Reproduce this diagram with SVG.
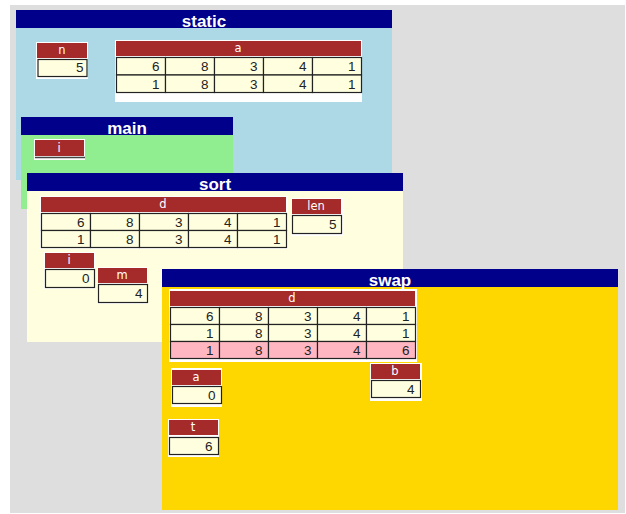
<svg xmlns="http://www.w3.org/2000/svg" width="626" height="514" viewBox="0 0 626 514">
<style>
.hdr{fill:#00008b}
.ttl{font-family:"Liberation Sans",Arial,sans-serif;font-weight:bold;font-size:17px;fill:#fff;text-anchor:middle}
.bg{fill:#fff}
.lab{fill:#a52a2a}
.lt{font-family:"DejaVu Sans","Liberation Sans",sans-serif;font-size:11.5px;fill:#fff;text-anchor:middle}
.cell{fill:#ffffe0;stroke:#222;stroke-width:1.2}
.pink{fill:#ffb6c1;stroke:#222;stroke-width:1.2}
.val{font-family:"Liberation Sans",Arial,sans-serif;font-size:13.5px;fill:#222;text-anchor:end}
</style>
<rect x="10" y="5" width="615" height="508" fill="#dedede"/>

<g id="static">
<rect x="16" y="28" width="376" height="152" fill="#add8e6"/>
<rect class="hdr" x="16" y="10" width="376" height="18"/>
<text class="ttl" x="204" y="27">static</text>
<g id="static-n">
<rect class="bg" x="36" y="42" width="52" height="37"/>
<rect class="lab" x="37" y="43" width="50" height="15"/>
<text class="lt" x="62" y="54">n</text>
<rect class="cell" x="38" y="59.5" width="49" height="17"/>
<text class="val" x="83.5" y="72">5</text>
</g>
<g id="static-a">
<rect class="bg" x="115" y="40" width="247" height="62"/>
<rect class="lab" x="116" y="41" width="245" height="15"/>
<text class="lt" x="238" y="52">a</text>
<rect class="cell" x="116.5" y="57.5" width="49" height="17.5"/><rect class="cell" x="165.5" y="57.5" width="49" height="17.5"/><rect class="cell" x="214.5" y="57.5" width="49" height="17.5"/><rect class="cell" x="263.5" y="57.5" width="49" height="17.5"/><rect class="cell" x="312.5" y="57.5" width="49" height="17.5"/>
<rect class="cell" x="116.5" y="75" width="49" height="17.5"/><rect class="cell" x="165.5" y="75" width="49" height="17.5"/><rect class="cell" x="214.5" y="75" width="49" height="17.5"/><rect class="cell" x="263.5" y="75" width="49" height="17.5"/><rect class="cell" x="312.5" y="75" width="49" height="17.5"/>
<text class="val" x="159.5" y="71">6</text><text class="val" x="208.5" y="71">8</text><text class="val" x="257.5" y="71">3</text><text class="val" x="306.5" y="71">4</text><text class="val" x="355.5" y="71">1</text>
<text class="val" x="159.5" y="88.5">1</text><text class="val" x="208.5" y="88.5">8</text><text class="val" x="257.5" y="88.5">3</text><text class="val" x="306.5" y="88.5">4</text><text class="val" x="355.5" y="88.5">1</text>
</g>
</g>

<g id="main">
<rect x="21" y="135" width="212" height="74" fill="#90ee90"/>
<rect class="hdr" x="21" y="117" width="212" height="18"/>
<text class="ttl" x="127" y="134">main</text>
<g id="main-i">
<rect class="bg" x="34" y="139" width="51" height="21"/>
<rect class="lab" x="35" y="140" width="49" height="16"/>
<text class="lt" x="59" y="152">i</text>
<line x1="35" y1="157.5" x2="85" y2="157.5" stroke="#444" stroke-width="1.5"/>
</g>
</g>

<g id="sort">
<rect x="27" y="191" width="376" height="151" fill="#ffffe0"/>
<rect class="hdr" x="27" y="173" width="376" height="18"/>
<text class="ttl" x="215" y="190">sort</text>
<g id="sort-d">
<rect class="bg" x="40" y="196" width="248" height="53"/>
<rect class="lab" x="41" y="197" width="245" height="15"/>
<text class="lt" x="163" y="208">d</text>
<rect class="cell" x="41.5" y="213.5" width="49" height="17"/><rect class="cell" x="90.5" y="213.5" width="49" height="17"/><rect class="cell" x="139.5" y="213.5" width="49" height="17"/><rect class="cell" x="188.5" y="213.5" width="49" height="17"/><rect class="cell" x="237.5" y="213.5" width="49" height="17"/>
<rect class="cell" x="41.5" y="230.5" width="49" height="17"/><rect class="cell" x="90.5" y="230.5" width="49" height="17"/><rect class="cell" x="139.5" y="230.5" width="49" height="17"/><rect class="cell" x="188.5" y="230.5" width="49" height="17"/><rect class="cell" x="237.5" y="230.5" width="49" height="17"/>
<text class="val" x="84.5" y="226.5">6</text><text class="val" x="133.5" y="226.5">8</text><text class="val" x="182.5" y="226.5">3</text><text class="val" x="231.5" y="226.5">4</text><text class="val" x="280.5" y="226.5">1</text>
<text class="val" x="84.5" y="243.5">1</text><text class="val" x="133.5" y="243.5">8</text><text class="val" x="182.5" y="243.5">3</text><text class="val" x="231.5" y="243.5">4</text><text class="val" x="280.5" y="243.5">1</text>
</g>
<g id="sort-len">
<rect class="bg" x="291" y="198" width="52" height="38"/>
<rect class="lab" x="292" y="199" width="49" height="15"/>
<text class="lt" x="316" y="210">len</text>
<rect class="cell" x="292.5" y="215.5" width="49" height="18"/>
<text class="val" x="336.5" y="229">5</text>
</g>
<g id="sort-i">
<rect class="bg" x="44" y="252" width="51" height="37"/>
<rect class="lab" x="45" y="253" width="49" height="15"/>
<text class="lt" x="69" y="264">i</text>
<rect class="cell" x="45.5" y="269.5" width="49" height="18"/>
<text class="val" x="89.5" y="283">0</text>
</g>
<g id="sort-m">
<rect class="bg" x="97" y="267" width="51" height="37"/>
<rect class="lab" x="98" y="268" width="49" height="15"/>
<text class="lt" x="122" y="279">m</text>
<rect class="cell" x="98.5" y="284.5" width="49" height="18"/>
<text class="val" x="142.5" y="298">4</text>
</g>
</g>

<g id="swap">
<rect x="162" y="287" width="456" height="223" fill="#ffd700"/>
<rect class="hdr" x="162" y="269" width="456" height="18"/>
<text class="ttl" x="390" y="286">swap</text>
<g id="swap-d">
<rect class="bg" x="169" y="289" width="248" height="73"/>
<rect class="lab" x="170" y="291" width="245" height="15"/>
<text class="lt" x="292" y="302">d</text>
<rect class="cell" x="170.5" y="307.5" width="49" height="17"/><rect class="cell" x="219.5" y="307.5" width="49" height="17"/><rect class="cell" x="268.5" y="307.5" width="49" height="17"/><rect class="cell" x="317.5" y="307.5" width="49" height="17"/><rect class="cell" x="366.5" y="307.5" width="49" height="17"/>
<rect class="cell" x="170.5" y="324.5" width="49" height="17"/><rect class="cell" x="219.5" y="324.5" width="49" height="17"/><rect class="cell" x="268.5" y="324.5" width="49" height="17"/><rect class="cell" x="317.5" y="324.5" width="49" height="17"/><rect class="cell" x="366.5" y="324.5" width="49" height="17"/>
<rect class="pink" x="170.5" y="341.5" width="49" height="17"/><rect class="pink" x="219.5" y="341.5" width="49" height="17"/><rect class="pink" x="268.5" y="341.5" width="49" height="17"/><rect class="pink" x="317.5" y="341.5" width="49" height="17"/><rect class="pink" x="366.5" y="341.5" width="49" height="17"/>
<text class="val" x="213.5" y="320.5">6</text><text class="val" x="262.5" y="320.5">8</text><text class="val" x="311.5" y="320.5">3</text><text class="val" x="360.5" y="320.5">4</text><text class="val" x="409.5" y="320.5">1</text>
<text class="val" x="213.5" y="337.5">1</text><text class="val" x="262.5" y="337.5">8</text><text class="val" x="311.5" y="337.5">3</text><text class="val" x="360.5" y="337.5">4</text><text class="val" x="409.5" y="337.5">1</text>
<text class="val" x="213.5" y="354.5">1</text><text class="val" x="262.5" y="354.5">8</text><text class="val" x="311.5" y="354.5">3</text><text class="val" x="360.5" y="354.5">4</text><text class="val" x="409.5" y="354.5">6</text>
</g>
<g id="swap-a">
<rect class="bg" x="171" y="368" width="51" height="39"/>
<rect class="lab" x="172" y="370" width="49" height="15"/>
<text class="lt" x="196" y="381">a</text>
<rect class="cell" x="172.5" y="386.5" width="49" height="17"/>
<text class="val" x="215.5" y="400">0</text>
</g>
<g id="swap-b">
<rect class="bg" x="370" y="363" width="52" height="38"/>
<rect class="lab" x="371" y="364" width="49" height="15"/>
<text class="lt" x="395" y="375">b</text>
<rect class="cell" x="371.5" y="380.5" width="49" height="17"/>
<text class="val" x="414.5" y="394">4</text>
</g>
<g id="swap-t">
<rect class="bg" x="168" y="419" width="51" height="38"/>
<rect class="lab" x="169" y="420" width="49" height="15"/>
<text class="lt" x="193" y="431">t</text>
<rect class="cell" x="169.5" y="437.5" width="49" height="17"/>
<text class="val" x="212.5" y="451">6</text>
</g>
</g>

<g id="connectors"></g>
</svg>
